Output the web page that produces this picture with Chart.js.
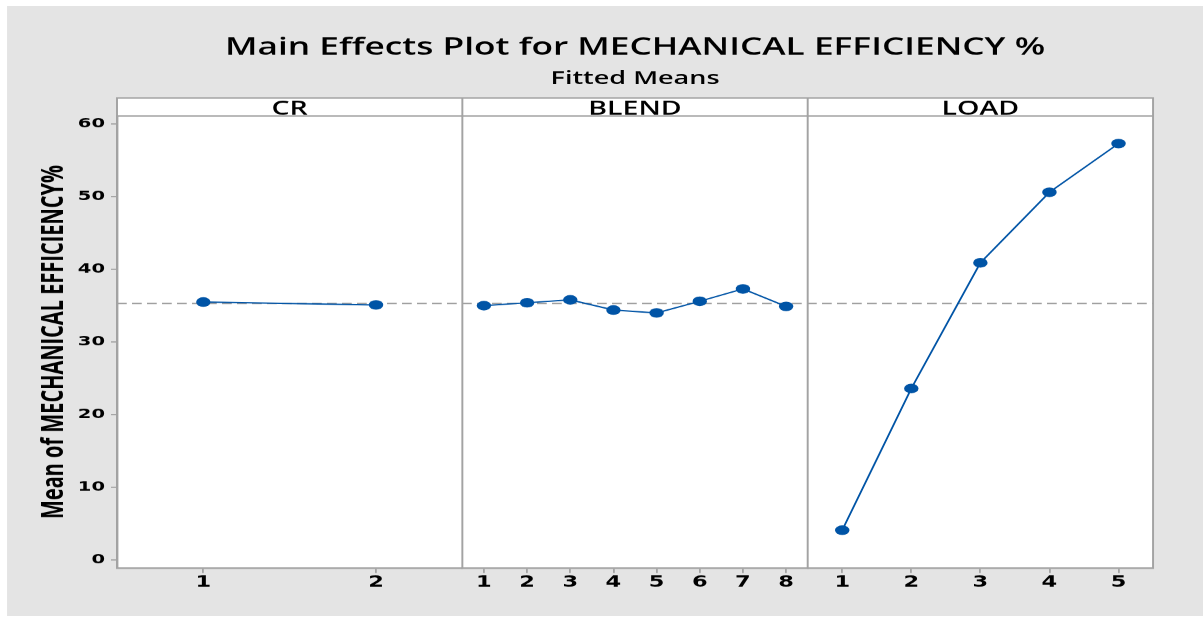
<!DOCTYPE html>
<html>
<head>
<meta charset="utf-8">
<title>Main Effects Plot for MECHANICAL EFFICIENCY %</title>
<script src="https://cdn.jsdelivr.net/npm/chart.js@4.4.1/dist/chart.umd.min.js"></script>
<style>
  html, body { margin: 0; padding: 0; background: #ffffff; overflow: hidden; }
  /* the plot is laid out on a narrower canvas and widened horizontally */
  #wrap { position: absolute; left: 0; top: 0; width: 802px; height: 618px;
          transform: scaleX(1.5); transform-origin: 0 0; }
  #chart { display: block; width: 802px; height: 618px; }
</style>
</head>
<body>
<div id="wrap"><canvas id="chart" width="802" height="618"></canvas></div>
<script>
// factor levels and fitted means
const crLevels = ['1', '2'];
const crMeans = [35.5, 35.1];

const blendLevels = ['1', '2', '3', '4', '5', '6', '7', '8'];
const blendMeans = [35.0, 35.4, 35.8, 34.4, 34.0, 35.6, 37.3, 34.9];

const loadLevels = ['1', '2', '3', '4', '5'];
const loadMeans = [4.1, 23.6, 40.9, 50.6, 57.3];

const panelNames = ['CR', 'BLEND', 'LOAD'];
const yTicks = [0, 10, 20, 30, 40, 50, 60];
const grandMean = 35.3;

const BLUE = '#0054a6';
const FRAME = '#a3a3a3';
const BG = '#e4e4e4';

const tickFontX = { family: 'DejaVu Sans', size: 15, weight: 'bold' };
const tickFontY = { family: 'DejaVu Sans', size: 13, weight: 'bold' };

function seriesStyle(values, axisId) {
  return {
    data: values,
    xAxisID: axisId,
    yAxisID: 'y',
    borderColor: BLUE,
    backgroundColor: BLUE,
    borderWidth: 1.3,
    pointRadius: 4.8,
    pointHoverRadius: 4.8,
    pointBackgroundColor: BLUE,
    pointBorderColor: BLUE,
    pointBorderWidth: 0,
    tension: 0
  };
}

function panelAxis(levels) {
  return {
    type: 'category',
    labels: levels,
    position: 'bottom',
    stack: 'panels',
    stackWeight: 1,
    offset: true,
    grid: { drawOnChartArea: false, drawTicks: true, tickLength: 5, color: FRAME, lineWidth: 1.2 },
    border: { display: true, color: FRAME, width: 1.6 },
    ticks: { font: tickFontX, color: '#000000', padding: 1, maxRotation: 0, autoSkip: false },
    afterFit(scale) { scale.height = 50; }
  };
}

// grey page behind the plot
const backdrop = {
  id: 'backdrop',
  beforeDraw(chart) {
    const ctx = chart.ctx;
    ctx.save();
    ctx.fillStyle = '#ffffff';
    ctx.fillRect(0, 0, chart.width, chart.height);
    ctx.fillStyle = BG;
    ctx.fillRect(4.7, 6, chart.width - 4.7, chart.height - 8);
    const a = chart.chartArea;
    ctx.fillStyle = '#ffffff';
    ctx.fillRect(a.left, a.top - 18, a.right - a.left, a.bottom - a.top + 18);
    ctx.restore();
  }
};

// reference line at the grand mean
const meanLine = {
  id: 'meanLine',
  beforeDatasetsDraw(chart) {
    const ctx = chart.ctx;
    const a = chart.chartArea;
    const y = chart.scales.y.getPixelForValue(grandMean);
    ctx.save();
    ctx.strokeStyle = '#a0a0a0';
    ctx.lineWidth = 1.5;
    ctx.setLineDash([6.5, 3.5]);
    ctx.beginPath();
    ctx.moveTo(a.left, y);
    ctx.lineTo(a.right, y);
    ctx.stroke();
    ctx.restore();
  }
};

// panel frames, dividers and the factor name strips
const panelFrames = {
  id: 'panelFrames',
  afterDraw(chart) {
    const ctx = chart.ctx;
    const a = chart.chartArea;
    const stripTop = a.top - 18;
    const axes = ['xCR', 'xBL', 'xLD'].map(id => chart.scales[id]);
    ctx.save();
    ctx.strokeStyle = FRAME;
    ctx.lineWidth = 1.3;
    // outer box including strip
    ctx.strokeRect(a.left, stripTop, a.right - a.left, a.bottom - stripTop);
    // strip bottom edge
    ctx.beginPath();
    ctx.moveTo(a.left, a.top);
    ctx.lineTo(a.right, a.top);
    ctx.stroke();
    // dividers between panels
    for (let i = 1; i < axes.length; i++) {
      ctx.beginPath();
      ctx.moveTo(axes[i].left, stripTop);
      ctx.lineTo(axes[i].left, a.bottom);
      ctx.stroke();
    }
    // strip labels
    ctx.fillStyle = '#000000';
    ctx.font = '600 19px "Open Sans"';
    ctx.textAlign = 'center';
    ctx.textBaseline = 'middle';
    axes.forEach((s, i) => {
      ctx.fillText(panelNames[i], (s.left + s.right) / 2, stripTop + 11);
    });
    ctx.restore();
  }
};

new Chart(document.getElementById('chart'), {
  type: 'line',
  data: {
    datasets: [
      seriesStyle(crMeans, 'xCR'),
      seriesStyle(blendMeans, 'xBL'),
      seriesStyle(loadMeans, 'xLD')
    ]
  },
  options: {
    responsive: false,
    devicePixelRatio: 1.5,
    animation: false,
    events: [],
    layout: { padding: { left: 0, right: 33.3, top: 0, bottom: 0 } },
    plugins: {
      legend: { display: false },
      tooltip: { enabled: false },
      title: {
        display: true,
        fullSize: false,
        text: 'Main Effects Plot for MECHANICAL EFFICIENCY %',
        color: '#000000',
        font: { family: 'Open Sans', size: 23.5, weight: 600, lineHeight: 1.2 },
        padding: { top: 34, bottom: 0 }
      },
      subtitle: {
        display: true,
        fullSize: false,
        text: 'Fitted Means',
        color: '#000000',
        font: { family: 'Open Sans', size: 18, weight: 600, lineHeight: 1.2 },
        padding: { top: 6, bottom: 26.2 }
      }
    },
    scales: {
      y: {
        type: 'linear',
        position: 'left',
        min: -1.1,
        max: 61.1,
        afterBuildTicks(scale) { scale.ticks = yTicks.map(v => ({ value: v })); },
        grid: { drawOnChartArea: false, drawTicks: true, tickLength: 4, color: FRAME, lineWidth: 1.2 },
        border: { display: true, color: FRAME, width: 1.6 },
        ticks: { font: tickFontY, color: '#000000', padding: 4 },
        title: {
          display: true,
          text: 'Mean of MECHANICAL EFFICIENCY%',
          color: '#000000',
          font: { family: 'Open Sans', size: 20, weight: 'bold', lineHeight: 1.2 },
          padding: { top: 24, bottom: 0 }
        },
        afterFit(scale) { scale.width = 78; }
      },
      xCR: panelAxis(crLevels),
      xBL: panelAxis(blendLevels),
      xLD: panelAxis(loadLevels)
    }
  },
  plugins: [backdrop, meanLine, panelFrames]
});
</script>
</body>
</html>
